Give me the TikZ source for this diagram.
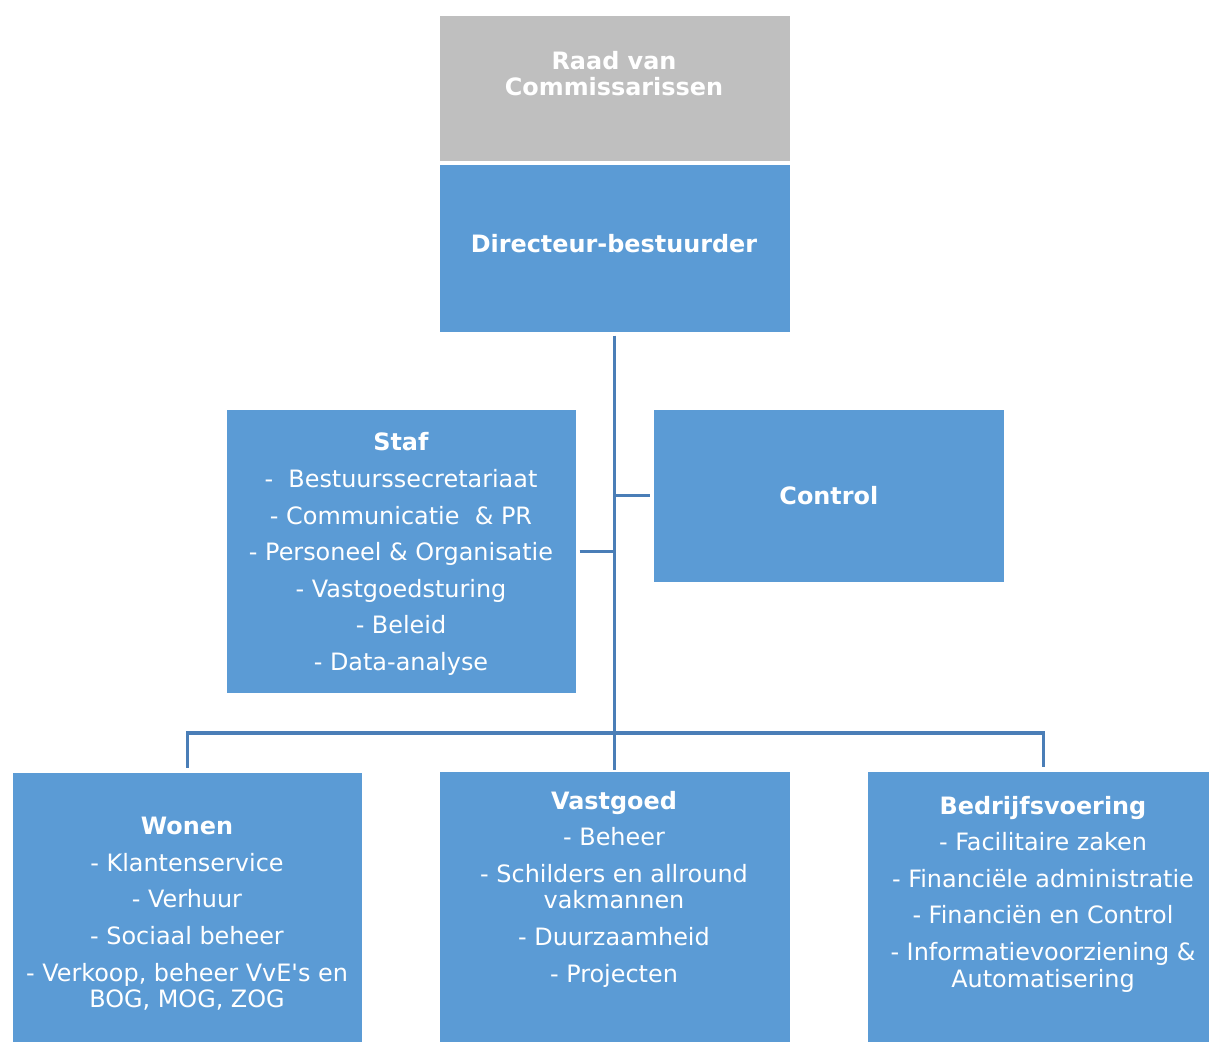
\documentclass[tikz,border=0pt]{standalone}
\usepackage{fontspec}
\setmainfont{DejaVu Sans}
\definecolor{vakblauw}{RGB}{91,155,213}
\definecolor{vakgrijs}{RGB}{191,191,191}
\definecolor{lijnblauw}{RGB}{74,126,183}

\begin{document}
\begin{tikzpicture}[
    x=0.025cm,y=-0.025cm,
    vak/.style={fill=vakblauw,draw=white,line width=0.5pt,
                anchor=north west,inner sep=0pt},
    tekst/.style={text=white,align=center,inner sep=0pt,
                  font=\fontsize{17}{26}\selectfont},
    lijn/.style={draw=lijnblauw,line width=2.2pt}]

  \useasboundingbox (0,0) rectangle (1209,1041);

  % vakken
  \node[vak,fill=vakgrijs,minimum width=8.775cm,minimum height=3.65cm] (raad) at (439,15) {};
  \node[vak,minimum width=8.775cm,minimum height=4.2cm]   (dir)  at (439,164) {};
  \node[vak,minimum width=8.75cm,minimum height=7.1cm]    (staf) at (226,409) {};
  \node[vak,minimum width=8.775cm,minimum height=4.325cm] (ctrl) at (653,409) {};
  \node[vak,minimum width=8.75cm,minimum height=6.8cm]    (won)  at (12,772)  {};
  \node[vak,minimum width=8.775cm,minimum height=6.8cm]   (vast) at (439,771) {};
  \node[vak,minimum width=8.8cm,minimum height=6.8cm]     (bed)  at (867,771) {};

  % teksten
  \node[tekst,font=\fontsize{17}{18.5}\selectfont\bfseries] (raadT) at (614,74)
    {Raad van\\Commissarissen};
  \node[tekst,font=\fontsize{17}{18}\selectfont\bfseries] (dirT) at (614,244)
    {Directeur-bestuurder};
  \node[tekst] (stafT) at (401,554)
    {\textbf{Staf}\\-\ \ Bestuurssecretariaat\\- Communicatie\ \ \& PR\\
     - Personeel \& Organisatie\\- Vastgoedsturing\\- Beleid\\- Data-analyse};
  \node[tekst,font=\fontsize{17}{18}\selectfont\bfseries] (ctrlT) at (ctrl.center)
    {Control};
  \node[tekst] (wonT) at (187,914)
    {\textbf{Wonen}\\- Klantenservice\\- Verhuur\\- Sociaal beheer\\
     - Verkoop, beheer VvE\textquotesingle s en\\[-7pt]BOG, MOG, ZOG};
  \node[tekst] (vastT) at (614,889)
    {\textbf{Vastgoed}\\- Beheer\\- Schilders en allround\\[-7pt]vakmannen\\
     - Duurzaamheid\\- Projecten};
  \node[tekst] (bedT) at (1043,894)
    {\textbf{Bedrijfsvoering}\\- Facilitaire zaken\\- Financiële administratie\\
     - Financiën en Control\\- Informatievoorziening \&\\[-7pt]Automatisering};

  % lijnen
  \coordinate (bus) at (615,733);
  \draw[lijn] ([yshift=-2pt]dir.south) -- ([yshift=1pt]vast.north);
  \draw[lijn] (dir.south |- ctrl.west) -- ([xshift=-2pt]ctrl.west);
  \draw[lijn] ([xshift=2pt]staf.east) -- (dir.south |- staf.east);
  \draw[lijn] ([yshift=3pt]won.north) |- (bus) -| ([yshift=3pt]bed.north);

\end{tikzpicture}
\end{document}
